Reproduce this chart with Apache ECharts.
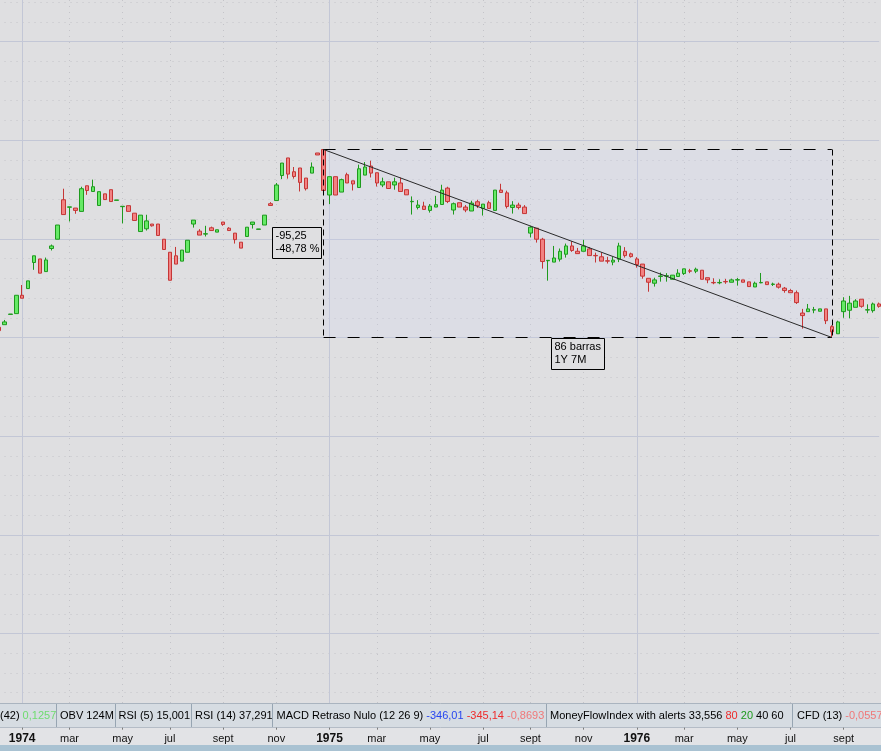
<!DOCTYPE html>
<html><head><meta charset="utf-8">
<script src="https://cdn.jsdelivr.net/npm/echarts@6/dist/echarts.min.js"></script>
<style>html,body{margin:0;padding:0;background:#dfdfe1;overflow:hidden}#c{width:881px;height:751px}</style>
</head><body><div id="c"></div>
<script>
// ---- DATA (weekly bars, first bar dated startDate) ----
const startDate = '1973-12-07';
const opens = [105.2,106.5,111.7,112.1,121.4,124.8,138.0,139.8,133.4,145.1,149.8,169.8,166.0,165.6,163.9,176.9,174.0,166.9,172.8,174.9,169.5,166.3,166.8,163.0,153.7,155.1,157.5,157.5,149.8,143.2,141.4,138.7,143.2,157.5,153.9,152.4,155.6,153.4,158.5,155.4,152.9,148.3,151.2,157.3,154.8,157.0,167.8,169.4,182.1,191.0,184.0,185.9,180.8,183.3,193.5,195.27,
172.2,181.5,173.7,182.5,179.4,176.0,182.3,186.9,183.5,177.3,178.9,177.3,178.3,174.9,168.8,165.9,166.6,164.4,166.1,167.4,175.7,164.6,168.3,166.1,164.1,168.8,165.4,168.3,164.4,174.7,173.3,165.9,167.1,166.1,152.9,155.4,149.8,138.9,138.2,139.7,142.2,146.4,143.7,143.7,144.9,141.6,140.9,138.9,138.2,139.7,143.7,142.4,139.8,137.2,130.0,127.5,130.9,131.1,129.5,130.9,132.4,133.8,133.6,134.1,130.3,127.9,127.7,128.4,128.0,129.1,129.2,128.2,125.6,127.7,128.2,126.9,127.0,125.0,123.8,122.7,112.4,113.1,113.9,113.3,114.5,105.5,101.9,113.1,113.8,115.3,119.4,113.9,113.6,117.0];
const closes = [103.5,107.9,111.9,121.4,119.9,128.7,141.4,132.6,139.3,146.4,157.0,162.3,166.2,164.4,175.4,174.5,176.4,173.9,169.9,168.9,169.7,166.5,163.9,159.3,162.0,159.1,156.6,151.7,144.6,129.0,137.2,144.3,149.3,159.5,151.9,152.6,154.2,154.6,157.3,154.2,149.6,145.3,155.9,158.5,155.0,162.0,166.9,177.3,188.4,182.8,181.6,178.6,175.4,186.4,192.5,174.5,
181.5,172.2,180.0,178.3,177.8,185.5,186.4,183.3,178.3,178.9,175.5,178.9,174.0,172.3,169.0,167.1,164.9,166.6,167.3,174.7,168.9,167.8,166.1,164.6,168.1,166.9,167.6,165.4,174.7,173.5,166.4,167.1,165.9,162.8,155.9,149.8,138.5,139.1,140.3,143.7,146.4,144.1,142.5,146.4,141.5,141.4,138.7,138.7,139.2,146.4,141.5,141.0,137.0,131.1,128.0,129.2,131.2,131.3,131.6,132.6,134.8,133.6,134.6,129.5,129.2,127.7,127.9,128.2,129.2,129.3,128.0,125.8,127.5,127.9,126.8,127.1,125.5,123.8,122.7,117.7,111.1,114.5,114.1,114.5,108.5,102.9,107.9,118.5,117.4,118.5,115.8,114.1,117.0,115.8];
const lows = [103.3,106.5,111.7,112.1,119.9,124.8,134.3,132.6,133.4,144.1,149.8,162.3,158.8,162.7,163.9,172.3,174.0,166.9,169.9,168.9,169.5,157.8,163.9,159.3,153.7,154.2,156.2,151.7,144.6,129.0,137.2,138.7,143.2,155.7,151.9,151.2,154.2,153.4,156.6,154.1,147.6,145.3,151.2,155.2,154.8,157.0,166.9,169.4,180.3,180.5,180.5,174.0,174.5,183.3,192.5,172.5,
167.6,172.2,173.7,178.3,174.5,176.0,182.3,181.1,176.5,176.2,175.5,174.9,174.0,172.3,162.3,164.9,164.9,163.3,166.1,167.4,168.1,162.3,166.1,163.5,164.1,165.6,161.8,165.4,164.4,173.5,165.4,162.8,164.9,162.8,150.7,148.1,134.9,128.8,138.2,138.5,140.5,143.4,142.5,143.7,141.5,138.0,138.7,137.5,136.6,138.2,140.5,140.5,135.4,129.8,123.2,125.8,128.3,128.3,129.5,130.9,131.7,132.6,132.6,129.5,127.5,127.0,127.0,127.2,128.0,126.3,128.0,125.8,125.6,127.5,126.8,126.1,124.8,122.7,122.7,117.0,104.5,113.1,112.3,113.3,106.8,100.02,101.9,110.0,109.7,115.3,115.1,112.3,112.6,115.1];
const highs = [105.4,108.9,111.9,121.4,126.6,128.7,141.4,139.8,140.5,147.1,157.0,175.4,166.2,165.6,176.4,176.9,180.0,173.9,172.8,174.9,169.7,166.5,166.8,163.0,162.0,162.2,157.5,157.5,149.8,143.2,145.9,144.3,149.3,159.5,154.9,156.6,156.2,154.6,158.5,155.9,152.9,148.3,155.9,158.5,155.0,162.0,168.6,178.3,188.4,191.0,186.4,185.9,180.8,188.7,193.5,195.27,
181.5,181.5,180.5,183.5,179.4,187.6,188.9,189.6,183.5,181.0,178.9,181.0,181.0,174.9,171.5,169.6,168.8,167.6,171.8,177.4,176.4,168.4,168.3,167.1,169.3,169.8,167.6,169.3,174.7,177.9,174.4,169.1,168.3,167.1,156.6,155.4,150.5,139.1,146.4,145.1,147.6,148.8,145.4,149.5,145.8,143.0,143.2,140.9,140.9,148.0,145.8,143.0,140.7,137.2,130.0,130.3,132.9,132.6,131.6,134.6,134.8,134.8,135.4,134.1,130.3,130.0,129.5,129.7,129.8,130.2,129.2,128.2,128.3,132.7,128.2,127.8,127.8,125.6,124.5,123.8,114.5,117.0,115.5,114.5,114.5,106.2,108.5,120.4,121.1,119.4,119.4,116.8,117.7,117.7];
// x-axis tick labels (bar date -> text)
const tickDates = ['1974-01-04','1974-03-01','1974-05-03','1974-06-28','1974-08-30','1974-11-01','1975-01-03','1975-02-28','1975-05-02','1975-07-04','1975-08-29','1975-10-31','1976-01-02','1976-02-27','1976-04-30','1976-07-02','1976-09-03'];
const tickTexts = ['1974','mar','may','jul','sept','nov','1975','mar','may','jul','sept','nov','1976','mar','may','jul','sept'];
// measured move: from the high of one bar to the low of another
const measureFrom = '1974-12-27';
const measureTo = '1976-08-20';

// ---- build ----
function addDays(s, n) { const d = new Date(s + 'T00:00:00Z'); d.setUTCDate(d.getUTCDate() + n); return d.toISOString().slice(0, 10); }
const categories = opens.map((_, i) => addDays(startDate, 7 * i));
const ohlc = opens.map((o, i) => [o, closes[i], lows[i], highs[i]]);
const tickMap = {}; tickDates.forEach((d, i) => tickMap[d] = tickTexts[i]);
const isYear = t => /^\d{4}$/.test(t);
const iFrom = categories.indexOf(measureFrom), iTo = categories.indexOf(measureTo);
const pHigh = highs[iFrom], pLow = lows[iTo];

const chart = echarts.init(document.getElementById('c'), null, {renderer: 'canvas'});
const FONT = '"Liberation Sans", Arial, sans-serif';
const hDash = {color: '#000', width: 1, type: [12, 12]};
const vDash = {color: '#000', width: 1, type: [6, 4]};
const hiddenAxis = {axisLine: {show: false, onZero: false}, axisTick: {show: false}, axisLabel: {show: false}};

chart.setOption({
  animation: false,
  backgroundColor: '#dfdfe1',
  textStyle: {fontFamily: FONT},
  grid: {left: -1.46, right: 1.87, top: 0, bottom: 18.83, containLabel: false, outerBoundsMode: 'none'},
  xAxis: [
    {type: 'category', data: categories, boundaryGap: false, z: 200, offset: -2.5,
     axisLine: {show: false, onZero: false},
     axisTick: {show: true, inside: true, length: 2, interval: (i, v) => v in tickMap, lineStyle: {color: '#7a7a7a'}},
     axisLabel: {show: true, margin: 3.5, interval: (i, v) => v in tickMap,
       formatter: v => { const t = tickMap[v] || ''; return isYear(t) ? '{y|' + t + '}' : '{m|' + t + '}'; },
       rich: {y: {fontWeight: 'bold', fontSize: 12, color: '#111', fontFamily: FONT}, m: {fontSize: 11, color: '#111', fontFamily: FONT}}},
     splitLine: {show: false}},
    Object.assign({type: 'category', data: categories, boundaryGap: false, position: 'top', z: 1,
     splitLine: {show: true, interval: (i, v) => isYear(tickMap[v] || ''), lineStyle: {color: '#c3c7d6', width: 1}}}, hiddenAxis),
    Object.assign({type: 'category', data: categories, boundaryGap: false, position: 'top', z: 0,
     splitLine: {show: true, interval: (i, v) => (v in tickMap) && !isYear(tickMap[v]), lineStyle: {color: '#c4c4c9', width: 1, type: [1, 5]}}}, hiddenAxis)
  ],
  yAxis: [
    Object.assign({type: 'value', min: -100, max: 271.03, interval: 50, z: 1,
      splitLine: {show: true, showMinLine: false, showMaxLine: false, lineStyle: {color: '#c3c7d6', width: 1}}}, hiddenAxis),
    Object.assign({type: 'value', min: -100, max: 271.03, interval: 10, z: 0, position: 'right',
      splitLine: {show: true, showMinLine: false, showMaxLine: false, lineStyle: {color: '#c4c4c9', width: 1, type: [1, 5]}}}, hiddenAxis)
  ],
  series: [{
    type: 'candlestick', xAxisIndex: 0, yAxisIndex: 0, data: ohlc, barWidth: 4, z: 3,
    itemStyle: {color: '#66ea66', color0: '#f28282', borderColor: '#1e9a1e', borderColor0: '#c53636', borderWidth: 1},
    emphasis: {disabled: true},
    markArea: {silent: true, itemStyle: {color: 'rgba(205,215,250,0.17)', borderWidth: 0},
      data: [[{coord: [iFrom, pHigh]}, {coord: [iTo, pLow]}]]},
    markLine: {silent: true, symbol: ['none', 'none'], label: {show: false}, emphasis: {disabled: true}, animation: false,
      data: [
        [{coord: [iFrom, pHigh], lineStyle: hDash}, {coord: [iTo, pHigh]}],
        [{coord: [iFrom, pLow], lineStyle: hDash}, {coord: [iTo, pLow]}],
        [{coord: [iFrom, pHigh], lineStyle: vDash}, {coord: [iFrom, pLow]}],
        [{coord: [iTo, pHigh], lineStyle: vDash}, {coord: [iTo, pLow]}],
        [{coord: [iFrom, pHigh], lineStyle: {color: '#2a2a2a', width: 1, type: 'solid'}}, {coord: [iTo, pLow]}]
      ]}
  }]
});

// ---- annotations and status bar ----
const fmt = (v, d) => v.toFixed(d).replace('.', ',');
const diff = pLow - pHigh;
const pct = diff / pHigh * 100;
const nBars = iTo - iFrom;
const d1 = new Date(measureFrom + 'T00:00:00Z'), d2 = new Date(measureTo + 'T00:00:00Z');
let months = (d2.getUTCFullYear() - d1.getUTCFullYear()) * 12 + d2.getUTCMonth() - d1.getUTCMonth();
if (d2.getUTCDate() < d1.getUTCDate()) months--;
const spanText = Math.floor(months / 12) + 'Y ' + (months % 12) + 'M';

const pTL = chart.convertToPixel({xAxisIndex: 0, yAxisIndex: 0}, [iFrom, pHigh]);
const pBR = chart.convertToPixel({xAxisIndex: 0, yAxisIndex: 0}, [iTo, pLow]);

function labelBox(x, y, w, h, lines) {
  return [
    {type: 'rect', z: 120, zlevel: 0, silent: true, shape: {x: x, y: y, width: w, height: h}, style: {fill: '#dfdfe1', stroke: '#000', lineWidth: 1}},
    {type: 'text', z: 121, zlevel: 0, silent: true, x: x + 3, y: y + 2.5, style: {text: lines[0], font: '11px ' + FONT, fill: '#000', textVerticalAlign: 'top'}},
    {type: 'text', z: 121, zlevel: 0, silent: true, x: x + 3, y: y + 16, style: {text: lines[1], font: '11px ' + FONT, fill: '#000', textVerticalAlign: 'top'}}
  ];
}
const b1w = 49, b1h = 31, b2w = 53, b2h = 31;
const box1 = labelBox(Math.round(pTL[0]) - 2.5 - b1w, Math.round((pTL[1] + pBR[1]) / 2 - b1h / 2) - 0.5, b1w, b1h, [fmt(diff, 2), fmt(pct, 2) + ' %']);
const box2 = labelBox(Math.round((pTL[0] + pBR[0]) / 2 - b2w / 2) + 0.5, Math.round(pBR[1]) + 1.5, b2w, b2h, [nBars + ' barras', spanText]);

const statusSegments = [
  {x: 0, sepAfter: 56.5, parts: [['(42) ', '#000'], ['0,1257', '#6fdc6f']]},
  {x: 60, sepAfter: 115.5, parts: [['OBV 124M', '#000']]},
  {x: 118.5, sepAfter: 191.5, parts: [['RSI (5) 15,001', '#000']]},
  {x: 195, sepAfter: 272.5, parts: [['RSI (14) 37,291', '#000']]},
  {x: 276.5, sepAfter: 546.5, parts: [['MACD Retraso Nulo (12 26 9) ', '#000'], ['-346,01', '#2746f0'], [' ', '#000'], ['-345,14', '#ee2b2b'], [' ', '#000'], ['-0,8693', '#f07878']]},
  {x: 550, sepAfter: 792.5, parts: [['MoneyFlowIndex with alerts 33,556 ', '#000'], ['80', '#ee2b2b'], [' ', '#000'], ['20', '#1e9a1e'], [' 40 60', '#000']]},
  {x: 797, sepAfter: null, parts: [['CFD (13) ', '#000'], ['-0,0557', '#f07878']]}
];
const gfx = [
  {type: 'rect', z: 100, silent: true, shape: {x: 0, y: 703, width: 881, height: 25}, style: {fill: '#d6dce2'}},
  {type: 'line', z: 101, silent: true, shape: {x1: 0, y1: 703.5, x2: 881, y2: 703.5}, style: {stroke: '#aab4bf', lineWidth: 1}},
  {type: 'rect', z: 100, silent: true, shape: {x: 0, y: 728, width: 881, height: 17}, style: {fill: '#e2e3e6'}},
  {type: 'line', z: 101, silent: true, shape: {x1: 0, y1: 727.5, x2: 881, y2: 727.5}, style: {stroke: '#b4bcc6', lineWidth: 1}},
  {type: 'rect', z: 100, silent: true, shape: {x: 0, y: 745, width: 881, height: 6}, style: {fill: '#a9c2d2'}}
].concat(box1, box2);
statusSegments.forEach((s) => {
  const rich = {};
  let txt = '';
  s.parts.forEach((p, pi) => { rich['p' + pi] = {fill: p[1], color: p[1], font: '11px ' + FONT}; txt += '{p' + pi + '|' + p[0] + '}'; });
  gfx.push({type: 'text', z: 110, silent: true, x: s.x, y: 716, style: {text: txt, rich: rich, font: '11px ' + FONT, fill: '#000', textVerticalAlign: 'middle'}});
  if (s.sepAfter !== null) gfx.push({type: 'line', z: 110, silent: true, shape: {x1: s.sepAfter, y1: 704, x2: s.sepAfter, y2: 727}, style: {stroke: '#97a5b2', lineWidth: 1}});
});
chart.setOption({graphic: gfx});
</script>
</body></html>
